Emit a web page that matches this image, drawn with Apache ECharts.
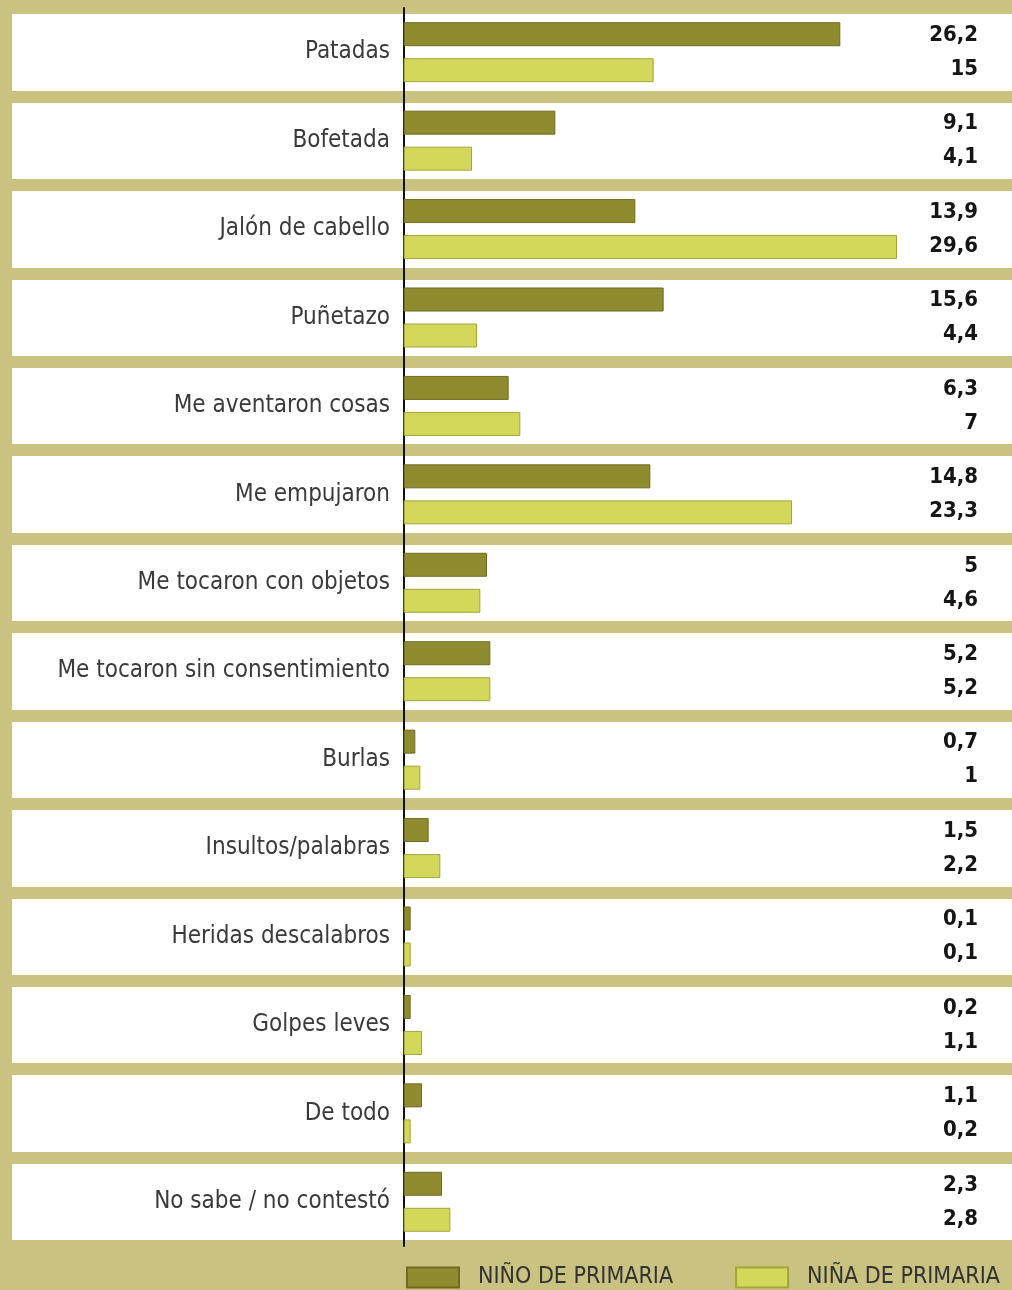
<!DOCTYPE html>
<html>
<head>
<meta charset="utf-8">
<script src="https://cdn.jsdelivr.net/npm/echarts@6/dist/echarts.min.js"></script>
<style>
html,body{margin:0;padding:0;background:#c9c281;}
#main{width:1012px;height:1290px;}
</style>
</head>
<body>
<div id="main"></div>
<script>
const categories = ['Patadas','Bofetada','Jalón de cabello','Puñetazo','Me aventaron cosas','Me empujaron','Me tocaron con objetos','Me tocaron sin consentimiento','Burlas','Insultos/palabras','Heridas descalabros','Golpes leves','De todo','No sabe / no contestó'];
const nino = [26.2, 9.1, 13.9, 15.6, 6.3, 14.8, 5, 5.2, 0.7, 1.5, 0.1, 0.2, 1.1, 2.3];
const nina = [15, 4.1, 29.6, 4.4, 7, 23.3, 4.6, 5.2, 1, 2.2, 0.1, 1.1, 0.2, 2.8];
const seriesNames = ['NIÑO DE PRIMARIA', 'NIÑA DE PRIMARIA'];

const BG = '#c9c281';
const FONT = "'Liberation Sans Narrow', 'DejaVu Sans Condensed', 'Roboto', sans-serif";
const fmt = v => String(v).replace('.', ',');

const chart = echarts.init(document.getElementById('main'));
chart.setOption({
  backgroundColor: BG,
  animation: false,
  grid: {left: 12, right: 0, top: 8, bottom: 44, containLabel: false, outerBoundsMode: 'none'},
  xAxis: {type: 'value', min: -23.5, max: 36.5, show: false},
  yAxis: [{
    type: 'category', data: categories, inverse: true,
    axisLine: {show: true, onZero: true, lineStyle: {color: '#111', width: 2}},
    axisTick: {show: false},
    axisLabel: {fontSize: 24, color: '#3a3a3a', fontFamily: FONT, margin: -378},
    splitArea: {show: true, areaStyle: {color: ['#ffffff']}},
    splitLine: {show: true, lineStyle: {color: BG, width: 12}}
  }, {
    type: 'category', data: categories, inverse: true, position: 'right',
    axisLine: {show: false, onZero: false},
    axisTick: {show: false},
    splitLine: {show: false}, splitArea: {show: false},
    axisLabel: {
      inside: true, margin: 34,
      formatter: (val, idx) => '{a|' + fmt(nino[idx]) + '}\n{b|' + fmt(nina[idx]) + '}',
      rich: {
        a: {fontSize: 22, fontWeight: 'bold', fontFamily: FONT, color: '#151515', lineHeight: 34, align: 'right'},
        b: {fontSize: 22, fontWeight: 'bold', fontFamily: FONT, color: '#151515', lineHeight: 34, align: 'right'}
      }
    }
  }],
  legend: {
    data: seriesNames, left: 406, top: 1266, width: 606, padding: 0,
    itemWidth: 52, itemHeight: 20, itemGap: 62,
    icon: 'rect',
    textStyle: {fontSize: 23, color: '#333', fontFamily: FONT, padding: [0, 0, 0, 14]}
  },
  series: [{
    name: seriesNames[0], type: 'bar', data: nino, yAxisIndex: 0,
    barWidth: 24, barGap: '50%', barMinHeight: 7,
    itemStyle: {color: '#8f8b2f', borderColor: '#6f6b22', borderWidth: 1}
  }, {
    name: seriesNames[1], type: 'bar', data: nina, yAxisIndex: 0,
    barWidth: 24, barGap: '50%', barMinHeight: 7,
    itemStyle: {color: '#d3d75a', borderColor: '#a3a53c', borderWidth: 1}
  }]
});
</script>
</body>
</html>
